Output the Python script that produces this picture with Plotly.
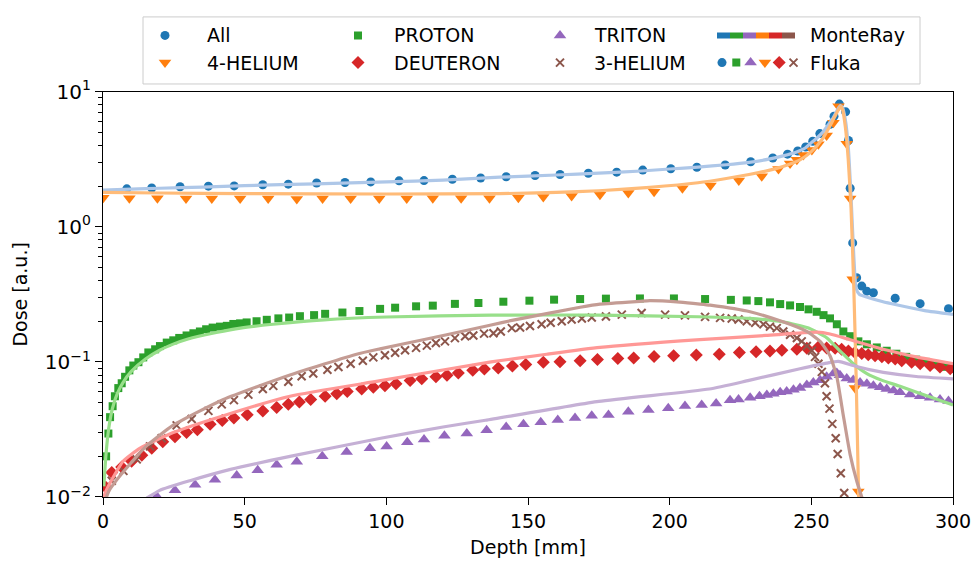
import plotly.graph_objects as go

# ---------------- data ----------------
# Fluka (markers)
ALL_F_X = [8.4,17.2,27.2,37.2,46.3,56.4,65.4,75.4,85.4,94.5,104.5,113.3,123.3,133.3,142.3,152.5,161.3,171.3,181.3,190.5,200.4,209.6,219.6,228.6,236.4,241.6,245.2,248.0,250.5,253.0,256.6,258.0,259.9,262.1,263.1,263.7,264.6,266.0,267.8,269.6,271.9,279.6,288.4,298.4]
ALL_F_Y = [1.91,1.94,1.98,2.00,2.01,2.05,2.07,2.11,2.13,2.15,2.19,2.20,2.25,2.30,2.35,2.40,2.44,2.49,2.54,2.63,2.69,2.76,2.87,3.03,3.23,3.45,3.64,3.90,4.30,4.90,5.75,6.60,8.10,7.10,4.36,1.93,0.76,0.42,0.364,0.334,0.325,0.296,0.270,0.248]

HE4_F_X = [0.1,9.3,19.2,29.3,38.4,48.4,58.3,68.4,77.5,87.4,97.5,107.2,116.4,126.4,136.4,146.6,155.4,165.4,175.4,185.4,194.5,204.5,214.4,224.4,232.5,238.4,242.5,244.9,247.2,250.2,252.5,255.4,257.8,259.6,262.5,263.7,264.6,265.4,266.6]
HE4_F_Y = [1.64,1.63,1.63,1.62,1.62,1.62,1.62,1.61,1.62,1.62,1.62,1.62,1.63,1.63,1.63,1.64,1.66,1.69,1.73,1.78,1.82,1.93,2.02,2.20,2.37,2.68,2.94,3.14,3.40,3.70,4.09,4.75,5.90,7.80,4.13,1.62,0.41,0.064,0.011]

PROTON_F_X = [1.1,1.9,2.5,3.4,4.2,5.4,6.6,7.8,9.3,10.7,12.5,14.2,16.0,18.4,20.1,22.5,24.8,26.9,29.5,31.9,34.2,36.4,38.7,41.3,43.7,46.0,48.4,50.7,54.2,57.8,61.9,65.7,69.5,74.5,78.4,84.5,90.5,97.8,103.1,110.5,116.4,124.2,132.5,141.3,150.5,159.2,168.4,177.5,189.5,201.5,212.5,221.6,227.2,231.3,235.4,239.0,242.5,246.0,249.0,251.9,254.3,256.6,259.0,261.3,263.7,266.6,269.6,273.1,276.6,280.0,283.5,287.0,290.5,294.0,297.5,300.0]
PROTON_F_Y = [0.020,0.0295,0.039,0.047,0.0557,0.064,0.0695,0.0776,0.0866,0.094,0.0995,0.108,0.1175,0.124,0.131,0.139,0.1445,0.1505,0.157,0.163,0.168,0.1745,0.1795,0.1825,0.185,0.191,0.193,0.196,0.200,0.205,0.210,0.213,0.218,0.222,0.227,0.232,0.238,0.247,0.252,0.258,0.261,0.269,0.273,0.279,0.284,0.289,0.292,0.294,0.295,0.295,0.292,0.288,0.285,0.282,0.276,0.268,0.262,0.255,0.245,0.235,0.222,0.210,0.190,0.168,0.155,0.142,0.135,0.128,0.121,0.115,0.109,0.104,0.100,0.096,0.092,0.089]

TRITON_F_X = [19.0,25.4,32.5,39.5,47.2,54.6,61.3,68.4,77.4,86.0,94.2,100.1,107.4,113.3,120.5,128.4,135.4,142.3,148.4,154.5,160.5,166.6,172.5,178.4,185.4,192.5,199.5,205.4,211.3,216.4,221.3,224.3,228.4,231.7,234.3,236.6,239.0,241.3,243.7,246.0,248.4,250.7,253.1,255.4,257.8,259.0,260.1,262.5,264.8,267.2,269.6,271.9,274.3,276.6,279.0,281.3,284.9,288.4,291.9,295.4,298.4]
TRITON_F_Y = [0.0101,0.0112,0.0123,0.0134,0.0144,0.0158,0.0173,0.0182,0.0200,0.0215,0.0230,0.0237,0.0254,0.0267,0.0284,0.0295,0.0312,0.0330,0.0345,0.0358,0.0372,0.0385,0.0400,0.0405,0.0428,0.0440,0.0454,0.0472,0.0480,0.0493,0.0521,0.0527,0.0542,0.0557,0.0569,0.0582,0.0596,0.0605,0.0622,0.0640,0.0675,0.0703,0.0733,0.0776,0.0820,0.0829,0.0798,0.0755,0.0734,0.0703,0.0688,0.0665,0.0650,0.0630,0.0615,0.0596,0.0573,0.0557,0.0542,0.0527,0.0513]

DEUT_F_X = [1.0,3.1,6.6,10.1,13.7,17.2,21.1,25.4,29.5,33.3,37.8,42.1,46.2,50.9,56.4,61.3,65.4,69.3,73.3,78.4,82.5,86.2,91.3,95.4,99.5,103.4,108.4,112.5,117.5,121.4,125.4,130.5,134.6,139.5,144.5,149.2,155.4,161.3,168.4,174.5,181.7,187.3,194.5,201.4,209.4,217.5,224.6,230.5,235.4,239.6,244.9,248.4,252.5,255.4,258.4,260.7,263.1,265.4,267.8,270.1,272.5,274.9,277.2,279.6,281.9,285.4,288.4,291.9,295.4,299.0]
DEUT_F_Y = [0.0118,0.0152,0.0167,0.0184,0.0204,0.0230,0.0257,0.0279,0.0300,0.0315,0.0345,0.0368,0.0385,0.0406,0.0434,0.0459,0.0485,0.0505,0.0527,0.0557,0.0582,0.0605,0.0629,0.0650,0.0667,0.0690,0.0728,0.0750,0.0776,0.0798,0.0829,0.0866,0.0885,0.0902,0.0931,0.0957,0.0995,0.1005,0.1020,0.1040,0.1060,0.1070,0.1095,0.1110,0.1125,0.1140,0.1175,0.1187,0.1207,0.1220,0.1240,0.1260,0.1290,0.1270,0.1260,0.1240,0.1207,0.1175,0.1156,0.1130,0.1110,0.1090,0.1070,0.1050,0.1020,0.0995,0.0970,0.0940,0.0917,0.0890]

HE3_F_X = [3.1,7.2,11.9,16.6,20.7,26.0,31.3,37.2,41.9,46.2,51.3,56.4,60.1,65.4,70.1,74.2,79.2,83.1,87.4,91.7,95.4,99.5,103.1,106.6,110.5,114.3,117.5,120.7,124.2,127.8,130.7,134.5,137.8,140.4,144.3,147.2,150.7,154.8,158.0,161.9,165.4,169.0,172.5,177.5,183.1,190.1,198.4,205.4,212.5,217.8,221.9,224.3,227.2,230.2,233.1,235.4,237.8,240.1,242.5,244.9,246.6,248.4,250.2,251.3,252.5,253.7,254.8,255.4,256.4,257.4,258.6,259.3,260.4,261.6]
HE3_F_Y = [0.0132,0.0156,0.0190,0.0237,0.0272,0.0339,0.0378,0.0434,0.0485,0.0521,0.0573,0.0630,0.0665,0.0714,0.0784,0.0820,0.0876,0.0917,0.0970,0.1020,0.1080,0.1120,0.1170,0.1220,0.1270,0.1320,0.1380,0.1420,0.1500,0.1550,0.1570,0.1620,0.1630,0.1680,0.1780,0.1800,0.1845,0.1900,0.1950,0.2000,0.2060,0.2095,0.2130,0.2170,0.2240,0.2300,0.2240,0.2210,0.2155,0.2120,0.2095,0.2060,0.2000,0.1950,0.1900,0.1825,0.1780,0.1680,0.1590,0.1505,0.1420,0.1310,0.1210,0.1090,0.0970,0.0844,0.0695,0.0557,0.0451,0.0348,0.0272,0.0208,0.0150,0.0107]

# MonteRay (lines)
ALL_M_X = [0,10,20,35,50,75,100,120,140,160,175,190,200,210,220,228,235,240,245,248,250,252,254,256,257.5,259,260.2,261,262,263,264,265,265.8,267,270,275,280,290,300]
ALL_M_Y = [1.87,1.90,1.93,1.97,2.02,2.08,2.15,2.22,2.33,2.42,2.50,2.59,2.68,2.77,2.88,3.0,3.17,3.35,3.60,3.85,4.20,4.55,5.00,5.70,6.30,7.20,7.90,7.60,6.20,4.00,1.70,0.60,0.35,0.315,0.300,0.280,0.265,0.240,0.225]

HE4_M_X = [0,20,50,100,140,160,175,193,210,220,228,235,240,246,250,254,257,259,260.3,261,262,263,264,265,265.8,266.3,266.8]
HE4_M_Y = [1.80,1.78,1.76,1.75,1.76,1.80,1.85,1.96,2.12,2.28,2.44,2.62,2.80,3.13,3.60,4.50,5.80,7.00,7.80,7.40,5.50,3.20,1.40,0.35,0.08,0.025,0.008]

PROTON_M_X = [0.3,1,2,3.3,5,7,10,15,20,25,30,40,48.5,60,78,100,137,175,210,228,240,249,255.4,260,264.8,269.6,275,281.3,293,300]
PROTON_M_Y = [0.012,0.020,0.032,0.045,0.058,0.070,0.085,0.105,0.122,0.136,0.148,0.165,0.178,0.190,0.205,0.215,0.222,0.222,0.216,0.210,0.198,0.178,0.151,0.121,0.097,0.082,0.073,0.066,0.054,0.048]

TRITON_M_X = [15.4,20,30.7,45,66,98,120,135,175,214,228,246,255.4,259.5,264.8,270,275.4,287,300]
TRITON_M_Y = [0.0098,0.0112,0.0132,0.016,0.020,0.0272,0.033,0.037,0.051,0.063,0.073,0.089,0.098,0.101,0.094,0.088,0.0837,0.078,0.075]

DEUT_M_X = [0,1,3.6,7.1,13.1,24.8,42.5,66,98,137,156.6,175.4,210.7,234,252,256.6,263.7,275.4,287,300]
DEUT_M_Y = [0.0095,0.011,0.014,0.0184,0.023,0.030,0.040,0.0557,0.0726,0.100,0.114,0.128,0.146,0.157,0.166,0.161,0.146,0.124,0.109,0.097]

HE3_M_X = [0.5,2,5,10,15,24.8,42.5,66,89.5,97.8,113,121.3,136.6,144.8,168.4,175.4,189.5,193,203.6,210.7,214.3,228.4,240,248.4,253.1,256.6,259,261.3,263.7,266,267.8,269]
HE3_M_Y = [0.009,0.011,0.0135,0.018,0.0235,0.034,0.0527,0.080,0.114,0.125,0.146,0.159,0.187,0.204,0.254,0.268,0.281,0.284,0.277,0.268,0.263,0.235,0.198,0.168,0.142,0.111,0.0776,0.040,0.0206,0.0132,0.010,0.008]

LABELS = ["All", "4-HELIUM", "PROTON", "DEUTERON", "TRITON", "3-HELIUM"]
X_TICKS = [0, 50, 100, 150, 200, 250, 300]
Y_TICKS = [0.01, 0.1, 1, 10]
Y_TICK_TEXT = ["10<sup>\u22122</sup>", "10<sup>\u22121</sup>", "10<sup>0</sup>", "10<sup>1</sup>"]

# ---------------- styling ----------------
DARK = {"All": "#1f77b4", "4-HELIUM": "#ff7f0e", "PROTON": "#2ca02c",
        "DEUTERON": "#d62728", "TRITON": "#9467bd", "3-HELIUM": "#8c564b"}
LIGHT = {"All": "#aec7e8", "4-HELIUM": "#ffbb78", "PROTON": "#98df8a",
         "DEUTERON": "#ff9896", "TRITON": "#c5b0d5", "3-HELIUM": "#c49c94"}
SYMBOL = {"All": ("circle", 9), "4-HELIUM": ("triangle-down", 11), "PROTON": ("square", 8),
          "DEUTERON": ("diamond", 10), "TRITON": ("triangle-up", 11), "3-HELIUM": ("x-thin", 8)}

FLUKA = {"All": (ALL_F_X, ALL_F_Y), "4-HELIUM": (HE4_F_X, HE4_F_Y), "PROTON": (PROTON_F_X, PROTON_F_Y),
         "DEUTERON": (DEUT_F_X, DEUT_F_Y), "TRITON": (TRITON_F_X, TRITON_F_Y), "3-HELIUM": (HE3_F_X, HE3_F_Y)}
MONTERAY = {"All": (ALL_M_X, ALL_M_Y), "4-HELIUM": (HE4_M_X, HE4_M_Y), "PROTON": (PROTON_M_X, PROTON_M_Y),
            "DEUTERON": (DEUT_M_X, DEUT_M_Y), "TRITON": (TRITON_M_X, TRITON_M_Y), "3-HELIUM": (HE3_M_X, HE3_M_Y)}

FONT = "DejaVu Sans"
W, H = 971, 561
ML, MR, MB = 103, 18, 64
PLOT_TOP = 80  # pixel row of the top of the axes

fig = go.Figure()


def marker_dict(lab, size_scale=1.0):
    sym, sz = SYMBOL[lab]
    if sym == "x-thin":
        return dict(symbol=sym, size=sz * size_scale, color=DARK[lab],
                    line=dict(color=DARK[lab], width=2))
    return dict(symbol=sym, size=sz * size_scale, color=DARK[lab], line=dict(width=0))


# Fluka markers
for lab in LABELS:
    x, y = FLUKA[lab]
    fig.add_trace(go.Scatter(x=x, y=y, mode="markers", marker=marker_dict(lab),
                             showlegend=False, cliponaxis=True, hoverinfo="skip"))
# MonteRay lines
for lab in LABELS:
    x, y = MONTERAY[lab]
    fig.add_trace(go.Scatter(x=x, y=y, mode="lines",
                             line=dict(color=LIGHT[lab], width=3.2, shape="spline", smoothing=0.5),
                             showlegend=False, hoverinfo="skip"))

# ---------------- manual legend (on a pixel-unit helper axis) ----------------
ydom_top = (H - MB - PLOT_TOP) / (H - MB)
LEG_ROW1, LEG_ROW2 = 22, 50
col_marker = [165, 358, 560]
col_text = [205, 392, 592]
grid = [["All", "PROTON", "TRITON"], ["4-HELIUM", "DEUTERON", "3-HELIUM"]]

for r, row in enumerate(grid):
    yy = LEG_ROW1 if r == 0 else LEG_ROW2
    for c, lab in enumerate(row):
        fig.add_trace(go.Scatter(x=[col_marker[c]], y=[yy], xaxis="x2", yaxis="y2", mode="markers",
                                 marker=marker_dict(lab), showlegend=False, hoverinfo="skip"))
        fig.add_annotation(x=col_text[c], y=yy, xref="x2", yref="y2", text=lab, showarrow=False,
                           xanchor="left", yanchor="middle", font=dict(family=FONT, size=19, color="#000"))

# MonteRay multi-colour line and Fluka multi-marker entries
seg_order = ["All", "PROTON", "TRITON", "4-HELIUM", "DEUTERON", "3-HELIUM"]
seg_x0, seg_w = 717, 13
shapes = []
for i, lab in enumerate(seg_order):
    shapes.append(dict(type="line", xref="x2", yref="y2", x0=seg_x0 + i * seg_w, x1=seg_x0 + (i + 1) * seg_w,
                       y0=LEG_ROW1, y1=LEG_ROW1, line=dict(color=DARK[lab], width=6)))
fluka_order = ["All", "PROTON", "TRITON", "4-HELIUM", "DEUTERON", "3-HELIUM"]
for i, lab in enumerate(fluka_order):
    fig.add_trace(go.Scatter(x=[722 + i * 14.3], y=[LEG_ROW2], xaxis="x2", yaxis="y2", mode="markers",
                             marker=marker_dict(lab, 1.0), showlegend=False, hoverinfo="skip"))
for txt, yy in (("MonteRay", LEG_ROW1), ("Fluka", LEG_ROW2)):
    fig.add_annotation(x=808, y=yy, xref="x2", yref="y2", text=txt, showarrow=False,
                       xanchor="left", yanchor="middle", font=dict(family=FONT, size=19, color="#000"))

# legend frame
shapes.insert(0, dict(type="rect", xref="x2", yref="y2", x0=143, x1=920, y0=3, y1=72,
                      line=dict(color="#cccccc", width=1), fillcolor="rgba(255,255,255,0.8)", layer="below"))

minor_y = [m * 10 ** e for e in (-2, -1, 0) for m in range(2, 10)]

fig.update_layout(
    width=W, height=H,
    margin=dict(l=ML, r=MR, t=0, b=MB, pad=0),
    paper_bgcolor="white", plot_bgcolor="white",
    font=dict(family=FONT, size=19, color="#000"),
    showlegend=False,
    shapes=shapes,
    xaxis=dict(domain=[0, 1], range=[0, 300], tickvals=X_TICKS, ticktext=[str(v) for v in X_TICKS],
               tickmode="array", ticks="outside", ticklen=7, tickwidth=1.3, ticklabeloverflow="allow",
               tickcolor="#000", showline=True, linecolor="#000", linewidth=1.3, mirror=True,
               showgrid=False, zeroline=False, tickfont=dict(family=FONT, size=19),
               title=dict(text="Depth [mm]", font=dict(family=FONT, size=19), standoff=9)),
    yaxis=dict(domain=[0, ydom_top], type="log", range=[-2, 1], tickvals=Y_TICKS, ticktext=Y_TICK_TEXT,
               ticks="outside", ticklen=7, tickwidth=1.3, tickcolor="#000",
               minor=dict(tickvals=minor_y, ticks="outside", ticklen=4, tickwidth=1, tickcolor="#000"),
               showline=True, linecolor="#000", linewidth=1.3, mirror=True,
               showgrid=False, zeroline=False, tickfont=dict(family=FONT, size=20),
               title=dict(text="Dose [a.u.]", font=dict(family=FONT, size=19), standoff=12)),
    xaxis2=dict(domain=[0, 1], range=[ML, W - MR], anchor="y2", visible=False, fixedrange=True),
    yaxis2=dict(domain=[ydom_top, 1], range=[PLOT_TOP, 0], anchor="x2", visible=False, fixedrange=True),
)

fig.write_html("out.html")
